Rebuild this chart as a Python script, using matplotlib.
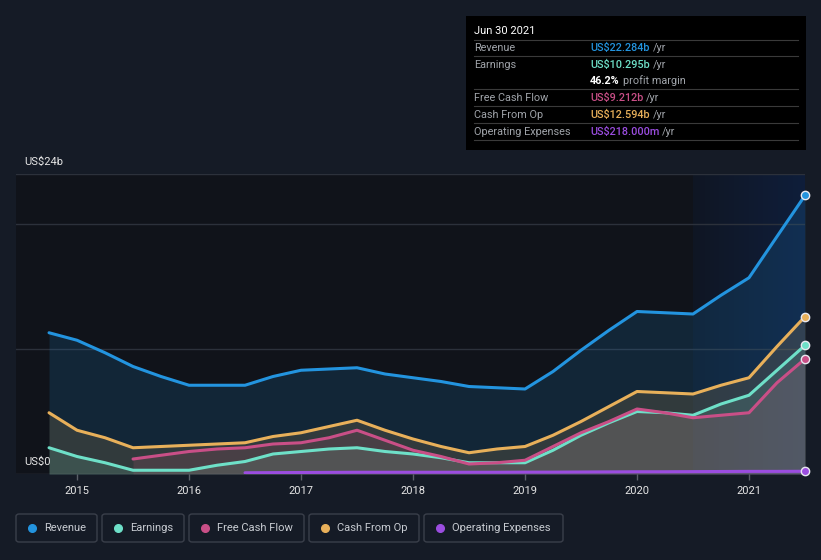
import numpy as np
import matplotlib.pyplot as plt
from matplotlib.patches import Rectangle, FancyBboxPatch
from matplotlib.lines import Line2D

plt.rcParams['font.family'] = ['Roboto', 'DejaVu Sans']

# quarterly periods, Sep 2014 .. Jun 2021 (decimal years)
quarters = [2014.75 + 0.25 * i for i in range(28)]

revenue = [11.3, 10.7, 9.7, 8.6, 7.8, 7.1, 7.1, 7.1, 7.8, 8.3, 8.4, 8.5, 8.0, 7.7,
           7.4, 7.0, 6.9, 6.8, 8.2, 9.9, 11.5, 13.0, 12.9, 12.8, 14.3, 15.7, 19.0, 22.284]
earnings = [2.1, 1.4, 0.9, 0.3, 0.3, 0.3, 0.7, 1.0, 1.6, 1.8, 2.0, 2.1, 1.8, 1.6,
            1.3, 0.9, 0.9, 0.9, 1.9, 3.1, 4.1, 5.0, 4.9, 4.7, 5.6, 6.3, 8.3, 10.295]
cash_op = [4.9, 3.5, 2.9, 2.1, 2.2, 2.3, 2.4, 2.5, 3.0, 3.3, 3.8, 4.3, 3.5, 2.8,
           2.2, 1.7, 2.0, 2.2, 3.1, 4.2, 5.4, 6.6, 6.5, 6.4, 7.1, 7.7, 10.2, 12.594]
# free cash flow starts Mar 2015
fcf = [1.2, 1.5, 1.8, 2.0, 2.1, 2.4, 2.5, 2.9, 3.5, 2.7, 1.9, 1.4, 0.8, 0.9,
       1.1, 2.2, 3.3, 4.2, 5.2, 4.9, 4.5, 4.7, 4.9, 7.3, 9.212]
# operating expenses start Jun 2016
opex = [0.10, 0.11, 0.12, 0.13, 0.14, 0.14, 0.14, 0.14, 0.14, 0.14, 0.15, 0.15,
        0.16, 0.17, 0.18, 0.18, 0.19, 0.20, 0.21, 0.21, 0.218]

series = [
    ("Revenue", quarters, revenue, "#2394df"),
    ("Earnings", quarters, earnings, "#6ee0c8"),
    ("Free Cash Flow", quarters[3:], fcf, "#c94f87"),
    ("Cash From Op", quarters, cash_op, "#e8b05a"),
    ("Operating Expenses", quarters[7:], opex, "#9b4de0"),
]

bg = "#151b26"
W, H = 821, 560
fig = plt.figure(figsize=(W / 100, H / 100), dpi=100, facecolor=bg)
ax = fig.add_axes([16 / W, (H - 474) / H, (805 - 16) / W, 300 / H])
ax.set_facecolor("#10131a")
ax.set_xlim(2014.455, 2021.5)
ax.set_ylim(0, 24)

# past year highlight: blend from plot bg towards dark blue, left to right
t_ = np.linspace(0.12, 0.4, 112)[None, :, None]
base = np.array([16, 19, 26]) / 255
blue = np.array([13, 46, 107]) / 255
grad = base * (1 - t_) + blue * t_
ax.imshow(grad, extent=[2020.5, 2021.5, 0, 24], aspect="auto", zorder=0,
          interpolation="bilinear")

for y in [10, 20, 24]:
    ax.axhline(y, color="#2c313b", lw=1, zorder=1)
ax.axhline(0, color="#3a3f48", lw=1, zorder=1)

for name, xs, ys, c in series:
    ax.fill_between(xs, 0, ys, color=c, alpha=0.15, lw=0, zorder=2)
for name, xs, ys, c in series:
    ax.plot(xs, ys, color=c, lw=2.2, solid_joinstyle="round", solid_capstyle="round", zorder=3)
    ax.plot(xs[-1], ys[-1], "o", ms=6, color=c, mec="#e8e8f0", mew=1,
            zorder=4, clip_on=False)

for s in ax.spines.values():
    s.set_visible(False)
ax.set_yticks([])
ax.set_xticks([2015, 2016, 2017, 2018, 2019, 2020, 2021])
ax.tick_params(axis="x", colors="#5a5f68", length=4, width=1, labelsize=8,
               labelcolor="#e6e6e6", pad=5)

def px(x, y):
    return x / W, 1 - y / H

fig.text(*px(24, 162), "US$24b", color="#e6e6e6", fontsize=8, va="center")
fig.text(*px(24, 462), "US$0", color="#e6e6e6", fontsize=8, va="center")

# tooltip box
fig.patches.append(Rectangle(px(466, 150), 340 / W, 134 / H, transform=fig.transFigure,
                             facecolor="#000000", edgecolor="none"))
fig.text(*px(474, 31), "Jun 30 2021", color="#ffffff", fontsize=8, va="center")
for ly in [40, 56, 89, 106, 123, 140]:
    fig.add_artist(Line2D([474 / W, 798 / W], [1 - ly / H] * 2, color="#3a3a3a",
                          lw=0.8, transform=fig.transFigure))
rows = [
    (48, "Revenue", "US$22.284b", "#2394df"),
    (65, "Earnings", "US$10.295b", "#6ee0c8"),
    (98, "Free Cash Flow", "US$9.212b", "#c94f87"),
    (115, "Cash From Op", "US$12.594b", "#e8b05a"),
    (132, "Operating Expenses", "US$218.000m", "#9b4de0"),
]
for ry, lab, val, c in rows:
    fig.text(*px(474, ry), lab, color="#a0a4aa", fontsize=7.8, va="center")
    t = fig.text(*px(590, ry), val, color=c, fontsize=7.8, va="center", weight="medium")
    fig.canvas.draw()
    bb = t.get_window_extent()
    fig.text(bb.x1 / W + 3 / W, 1 - ry / H, "/yr", color="#a0a4aa", fontsize=7.8,
             va="center")
t = fig.text(*px(590, 81), "46.2%", color="#ffffff", fontsize=7.8, va="center", weight="bold")
fig.canvas.draw()
bb = t.get_window_extent()
fig.text(bb.x1 / W + 3 / W, 1 - 81 / H, "profit margin", color="#a0a4aa", fontsize=7.8,
         va="center")

# legend
legend_boxes = [(16, 97), (102, 184), (189, 304), (309, 419), (424, 563)]
for (x0, x1), (name, xs, ys, c) in zip(legend_boxes, series):
    fig.patches.append(FancyBboxPatch(px(x0, 542), (x1 - x0) / W, 28 / H,
                                      boxstyle="round,pad=0,rounding_size=0.004",
                                      transform=fig.transFigure, facecolor="none",
                                      edgecolor="#3a3f4a", lw=1))
    fig.add_artist(Line2D([(x0 + 16) / W], [1 - 528 / H], marker="o", ms=5.5,
                          color=c, transform=fig.transFigure))
    fig.text(*px(x0 + 28, 528), name, color="#c8ccd2", fontsize=8, va="center")

fig.savefig("out.png", dpi=100, facecolor=bg)
